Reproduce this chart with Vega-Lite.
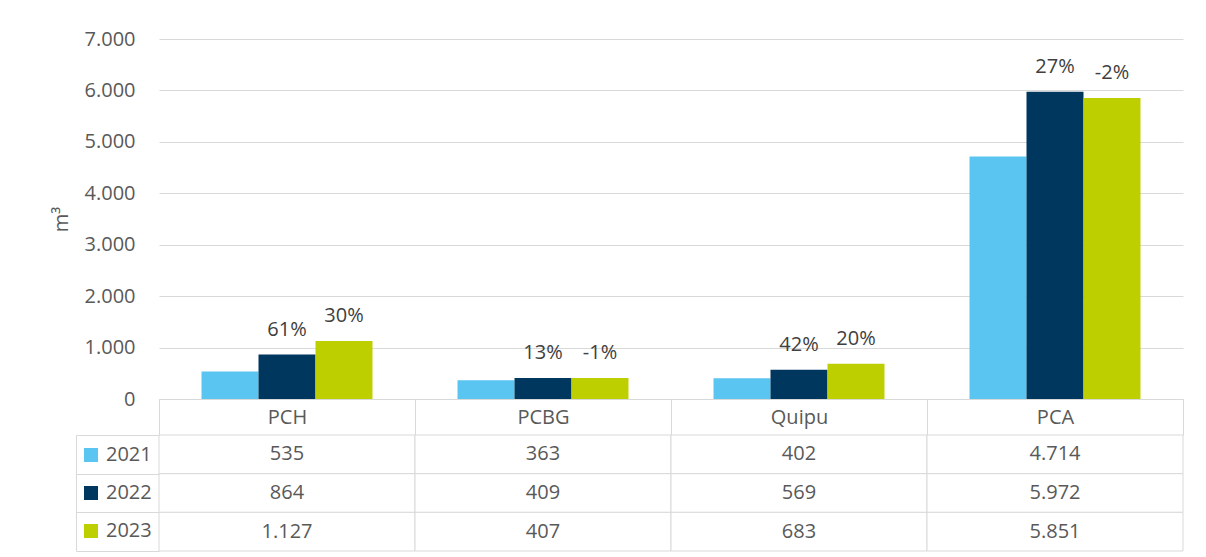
{
  "$schema": "https://vega.github.io/schema/vega-lite/v6.json",
  "padding": {"left": 51, "top": 29, "right": 5, "bottom": 5},
  "background": "white",
  "config": {
    "locale": {"number": {"decimal": ",", "thousands": ".", "grouping": [3], "currency": ["", " €"]}},
    "font": "Open Sans",
    "view": {"stroke": null}
  },
  "data": {"values": [
    {"cat": "PCH", "year": "2021", "value": 535, "pct": null},
    {"cat": "PCH", "year": "2022", "value": 864, "pct": "61%"},
    {"cat": "PCH", "year": "2023", "value": 1127, "pct": "30%"},
    {"cat": "PCBG", "year": "2021", "value": 363, "pct": null},
    {"cat": "PCBG", "year": "2022", "value": 409, "pct": "13%"},
    {"cat": "PCBG", "year": "2023", "value": 407, "pct": "-1%"},
    {"cat": "Quipu", "year": "2021", "value": 402, "pct": null},
    {"cat": "Quipu", "year": "2022", "value": 569, "pct": "42%"},
    {"cat": "Quipu", "year": "2023", "value": 683, "pct": "20%"},
    {"cat": "PCA", "year": "2021", "value": 4714, "pct": null},
    {"cat": "PCA", "year": "2022", "value": 5972, "pct": "27%"},
    {"cat": "PCA", "year": "2023", "value": 5851, "pct": "-2%"}
  ]},
  "spacing": 36,
  "bounds": "flush",
  "resolve": {"scale": {"color": "independent"}, "legend": {"color": "independent"}},
  "vconcat": [
    {
      "width": 1024,
      "height": 360,
      "encoding": {
        "x": {
          "field": "cat", "type": "nominal",
          "sort": ["PCH", "PCBG", "Quipu", "PCA"],
          "scale": {"paddingInner": 0, "paddingOuter": 0},
          "axis": {
            "title": null, "grid": false,
            "domain": true, "domainColor": "#d9d9d9", "domainWidth": 1,
            "ticks": true, "tickBand": "extent", "tickSize": 36, "tickColor": "#d9d9d9", "tickWidth": 1,
            "labelAngle": 0, "labelFontSize": 20, "labelColor": "#595959", "labelFont": "Open Sans",
            "labelBaseline": "middle", "labelPadding": -18
          }
        },
        "xOffset": {
          "field": "year", "type": "nominal",
          "scale": {"domain": ["2021", "2022", "2023"], "paddingInner": 0, "paddingOuter": 0.746}
        },
        "y": {
          "field": "value", "type": "quantitative",
          "scale": {"domain": [0, 7000], "nice": false},
          "axis": {
            "values": [0, 1000, 2000, 3000, 4000, 5000, 6000, 7000],
            "format": ",d",
            "domain": false, "ticks": false,
            "grid": true, "gridColor": "#d9d9d9", "gridWidth": 1,
            "labelFontSize": 20, "labelColor": "#595959", "labelFont": "Open Sans", "labelPadding": 24,
            "title": "m³", "titleFontSize": 20, "titleColor": "#595959", "titleFont": "Open Sans",
            "titleFontWeight": "normal", "titlePadding": 13
          }
        }
      },
      "layer": [
        {
          "mark": {"type": "bar"},
          "encoding": {
            "color": {
              "field": "year", "type": "nominal",
              "scale": {"domain": ["2021", "2022", "2023"], "range": ["#5BC5F2", "#00375F", "#BECF00"]},
              "legend": {
                "orient": "none", "legendX": -78, "legendY": 406, "title": null,
                "direction": "vertical", "padding": 0,
                "symbolType": "square", "symbolSize": 196, "symbolStrokeWidth": 0, "symbolOpacity": 1,
                "labelFontSize": 20, "labelColor": "#595959", "labelFont": "Open Sans", "labelOffset": 5,
                "rowPadding": 18
              }
            }
          }
        },
        {
          "transform": [{"filter": "datum.pct != null"}],
          "mark": {"type": "text", "dy": -25, "fontSize": 20, "color": "#404040", "font": "Open Sans", "baseline": "middle"},
          "encoding": {"text": {"field": "pct", "type": "nominal"}}
        }
      ]
    },
    {
      "width": 1024,
      "height": 116,
      "encoding": {
        "x": {
          "field": "cat", "type": "nominal",
          "sort": ["PCH", "PCBG", "Quipu", "PCA"],
          "scale": {"paddingInner": 0, "paddingOuter": 0},
          "axis": null
        },
        "y": {
          "field": "year", "type": "nominal",
          "scale": {"domain": ["2021", "2022", "2023"], "paddingInner": 0, "paddingOuter": 0},
          "axis": {
            "title": null, "labels": false, "grid": false, "offset": 83,
            "domain": true, "domainColor": "#d9d9d9", "domainWidth": 1,
            "ticks": true, "tickBand": "extent", "tickSize": -83, "tickColor": "#d9d9d9", "tickWidth": 1
          }
        }
      },
      "layer": [
        {"mark": {"type": "rect", "fill": "white", "stroke": "#d9d9d9", "strokeWidth": 1}},
        {
          "mark": {"type": "text", "fontSize": 20, "color": "#595959", "font": "Open Sans", "baseline": "middle"},
          "encoding": {"text": {"field": "value", "type": "quantitative", "format": ",d"}}
        }
      ]
    }
  ]
}
